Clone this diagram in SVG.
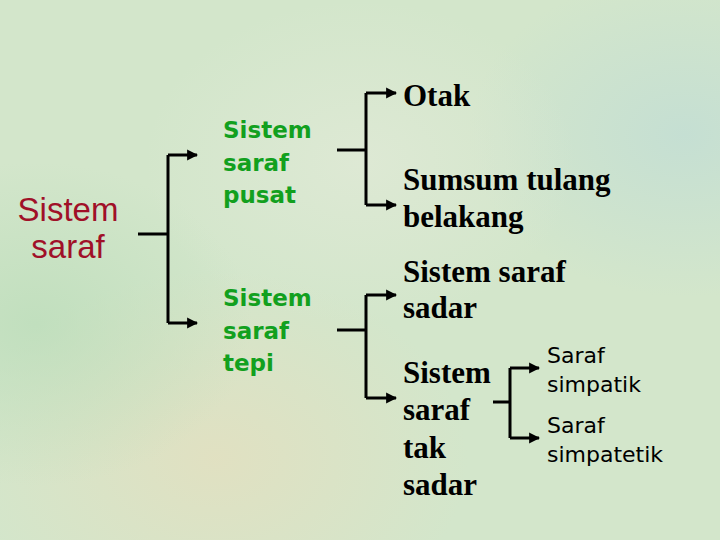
<svg xmlns="http://www.w3.org/2000/svg" width="720" height="540" viewBox="0 0 720 540">
<defs>
<radialGradient id="g1" cx="0.3" cy="0.85" r="0.35"><stop offset="0" stop-color="#e4dfbf" stop-opacity="0.8"/><stop offset="1" stop-color="#e4dfbf" stop-opacity="0"/></radialGradient>
<radialGradient id="g2" cx="0.95" cy="0.25" r="0.3"><stop offset="0" stop-color="#bfdcd6" stop-opacity="0.7"/><stop offset="1" stop-color="#bfdcd6" stop-opacity="0"/></radialGradient>
<radialGradient id="g3" cx="0.05" cy="0.6" r="0.3"><stop offset="0" stop-color="#b9dcb8" stop-opacity="0.7"/><stop offset="1" stop-color="#b9dcb8" stop-opacity="0"/></radialGradient>
<radialGradient id="g4" cx="0.5" cy="0.3" r="0.3"><stop offset="0" stop-color="#e2ead8" stop-opacity="0.7"/><stop offset="1" stop-color="#e2ead8" stop-opacity="0"/></radialGradient>
<marker id="ah" viewBox="0 0 10 10" refX="9" refY="5" markerWidth="11" markerHeight="12" markerUnits="userSpaceOnUse" orient="auto"><path d="M0,0 L10,5 L0,10 Z" fill="#000"/></marker>
</defs>
<style>
.ln{fill:none;stroke:#000;stroke-width:3}
.red{font-family:"Liberation Sans",Arial,sans-serif;font-size:33px;fill:#a01028}
.grn{font-family:"DejaVu Sans",sans-serif;font-weight:bold;font-size:23px;fill:#12a01e}
.blk{font-family:"Liberation Serif","Times New Roman",serif;font-weight:bold;font-size:31px;fill:#000}
.sm{font-family:"DejaVu Sans",sans-serif;font-size:22px;fill:#000}
</style>
<rect width="720" height="540" fill="#d3e6cb"/>
<rect width="720" height="540" fill="url(#g1)"/>
<rect width="720" height="540" fill="url(#g2)"/>
<rect width="720" height="540" fill="url(#g3)"/>
<rect width="720" height="540" fill="url(#g4)"/>
<g id="connectors">
<path class="ln" d="M138,234 H168 M168,155 V323"/>
<path class="ln" d="M168,155 H197" marker-end="url(#ah)"/>
<path class="ln" d="M168,323 H197" marker-end="url(#ah)"/>
<path class="ln" d="M337,150 H366 M366,93 V205"/>
<path class="ln" d="M366,93 H396" marker-end="url(#ah)"/>
<path class="ln" d="M366,205 H396" marker-end="url(#ah)"/>
<path class="ln" d="M337,330 H366 M366,295 V398"/>
<path class="ln" d="M366,295 H396" marker-end="url(#ah)"/>
<path class="ln" d="M366,398 H396" marker-end="url(#ah)"/>
<path class="ln" d="M493,402 H510 M510,368 V438"/>
<path class="ln" d="M510,368 H539" marker-end="url(#ah)"/>
<path class="ln" d="M510,438 H539" marker-end="url(#ah)"/>
</g>
<g id="sistem-saraf"><text class="red" text-anchor="middle"><tspan x="68" y="221">Sistem</tspan><tspan x="68" y="258">saraf</tspan></text></g>
<g id="pusat"><text class="grn"><tspan x="223" y="138">Sistem</tspan><tspan x="223" y="171">saraf</tspan><tspan x="223" y="203">pusat</tspan></text></g>
<g id="tepi"><text class="grn"><tspan x="223" y="306">Sistem</tspan><tspan x="223" y="339">saraf</tspan><tspan x="223" y="371">tepi</tspan></text></g>
<g id="otak"><text class="blk" x="403" y="106">Otak</text></g>
<g id="sumsum"><text class="blk"><tspan x="403" y="190">Sumsum tulang</tspan><tspan x="403" y="227">belakang</tspan></text></g>
<g id="sadar"><text class="blk"><tspan x="403" y="282">Sistem saraf</tspan><tspan x="403" y="318">sadar</tspan></text></g>
<g id="taksadar"><text class="blk"><tspan x="403" y="383">Sistem</tspan><tspan x="403" y="420">saraf</tspan><tspan x="403" y="458">tak</tspan><tspan x="403" y="495">sadar</tspan></text></g>
<g id="simpatik"><text class="sm"><tspan x="547" y="363">Saraf</tspan><tspan x="547" y="392">simpatik</tspan></text></g>
<g id="simpatetik"><text class="sm"><tspan x="547" y="433">Saraf</tspan><tspan x="547" y="462">simpatetik</tspan></text></g>
</svg>
